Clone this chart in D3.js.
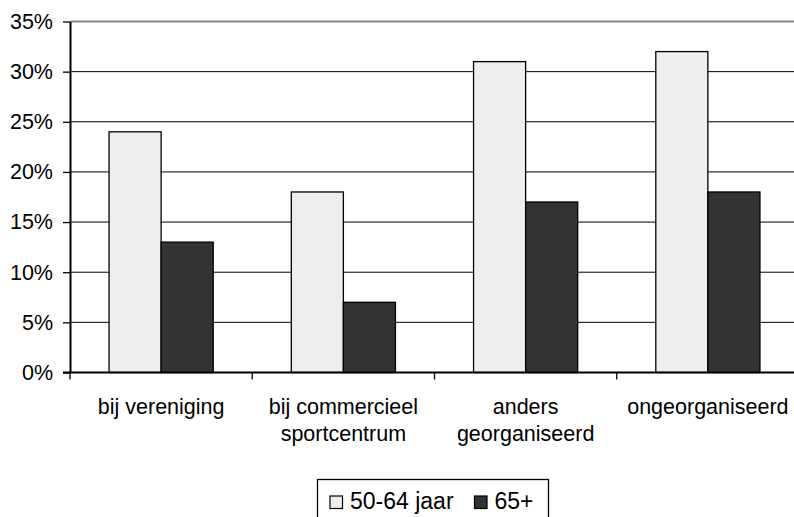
<!DOCTYPE html>
<html>
<head>
<meta charset="utf-8">
<script src="https://cdn.jsdelivr.net/npm/d3@7"></script>
<style>
  html, body { margin: 0; padding: 0; background: #fff; }
  svg { display: block; font-family: "Liberation Sans", Arial, sans-serif; }
</style>
</head>
<body>
<svg id="chart" width="794" height="517"></svg>
<script>
// Sport participation by how it is organised, per age group
const categories = [["bij vereniging"], ["bij commercieel", "sportcentrum"], ["anders", "georganiseerd"], ["ongeorganiseerd"]];
const seriesNames = ["50-64 jaar", "65+"];
const values5064 = [24, 18, 31, 32];
const values65plus = [13, 7, 17, 18];
const yTicks = [0, 5, 10, 15, 20, 25, 30, 35];

const seriesColors = ["#eeeeee", "#333333"];
const seriesValues = [values5064, values65plus];
const fontSize = 21.5;
const legendFontSize = 23;

const svg = d3.select("#chart");
const plotLeft = 70, plotRight = 799, plotTop = 21.5, plotBottom = 372.5;

const x = d3.scaleBand().domain(d3.range(categories.length)).range([plotLeft, plotRight]).paddingInner(0).paddingOuter(0);
const xSeries = d3.scaleBand().domain(d3.range(seriesNames.length)).range([0, x.bandwidth()]).paddingInner(0).paddingOuter(0.75);
const y = d3.scaleLinear().domain([0, 35]).range([plotBottom, plotTop]);

// horizontal gridlines
svg.append("g").selectAll("line").data(yTicks.filter(t => t > 0)).join("line")
  .attr("x1", plotLeft).attr("x2", 794)
  .attr("y1", d => y(d)).attr("y2", d => y(d))
  .attr("stroke", d => d === 35 ? "#888" : "#000")
  .attr("stroke-width", d => d === 35 ? 2 : 1);

// bars
const groups = svg.append("g").selectAll("g").data(categories).join("g")
  .attr("transform", (d, i) => `translate(${x(i)},0)`);
groups.selectAll("rect").data((d, i) => seriesValues.map((s, k) => ({ k, v: s[i] }))).join("rect")
  .attr("x", d => xSeries(d.k))
  .attr("width", xSeries.bandwidth())
  .attr("y", d => y(d.v))
  .attr("height", d => y(0) - y(d.v))
  .attr("fill", d => seriesColors[d.k])
  .attr("stroke", "#000").attr("stroke-width", 1.3);

// y axis
const yAxis = svg.append("g").attr("transform", `translate(${plotLeft},0)`)
  .call(d3.axisLeft(y).tickValues(yTicks).tickFormat(d => d + "%").tickSize(7).tickSizeOuter(0));
yAxis.select(".domain").attr("stroke", "#000").attr("stroke-width", 2);
yAxis.selectAll(".tick line").attr("stroke", "#000").attr("stroke-width", 1.3);
yAxis.selectAll(".tick text").attr("font-size", fontSize).attr("fill", "#000").attr("x", -17)
  .attr("font-family", "Liberation Sans, Arial, sans-serif");

// x axis with ticks at category boundaries
const xAxisG = svg.append("g");
xAxisG.append("line").attr("x1", plotLeft - 7).attr("x2", 794).attr("y1", plotBottom).attr("y2", plotBottom)
  .attr("stroke", "#000").attr("stroke-width", 2);
xAxisG.selectAll("line.tk").data(d3.range(categories.length)).join("line").attr("class", "tk")
  .attr("x1", i => x(i)).attr("x2", i => x(i))
  .attr("y1", plotBottom).attr("y2", plotBottom + 7)
  .attr("stroke", "#000").attr("stroke-width", 1.3);

// category labels
const labels = svg.append("g").selectAll("text").data(categories).join("text")
  .attr("text-anchor", "middle").attr("font-size", fontSize).attr("fill", "#000")
  .attr("transform", (d, i) => `translate(${x(i) + x.bandwidth() / 2},414.3)`);
labels.selectAll("tspan").data(d => d).join("tspan")
  .attr("x", 0).attr("dy", (d, j) => j === 0 ? 0 : 26.8).text(d => d);

// legend
const legend = svg.append("g");
legend.append("rect").attr("x", 317.5).attr("y", 479.5).attr("width", 231).attr("height", 50)
  .attr("fill", "#fff").attr("stroke", "#000").attr("stroke-width", 1.3);
const legendX = [329.5, 474];
const items = legend.selectAll("g").data(seriesNames).join("g")
  .attr("transform", (d, i) => `translate(${legendX[i]},0)`);
items.append("rect").attr("x", 0.5).attr("y", 496).attr("width", 12.5).attr("height", 12.5)
  .attr("fill", (d, i) => seriesColors[i]).attr("stroke", "#000").attr("stroke-width", 1.2);
items.append("text").attr("x", 20.5).attr("y", 509).attr("font-size", legendFontSize).attr("fill", "#000").text(d => d);
</script>
</body>
</html>
